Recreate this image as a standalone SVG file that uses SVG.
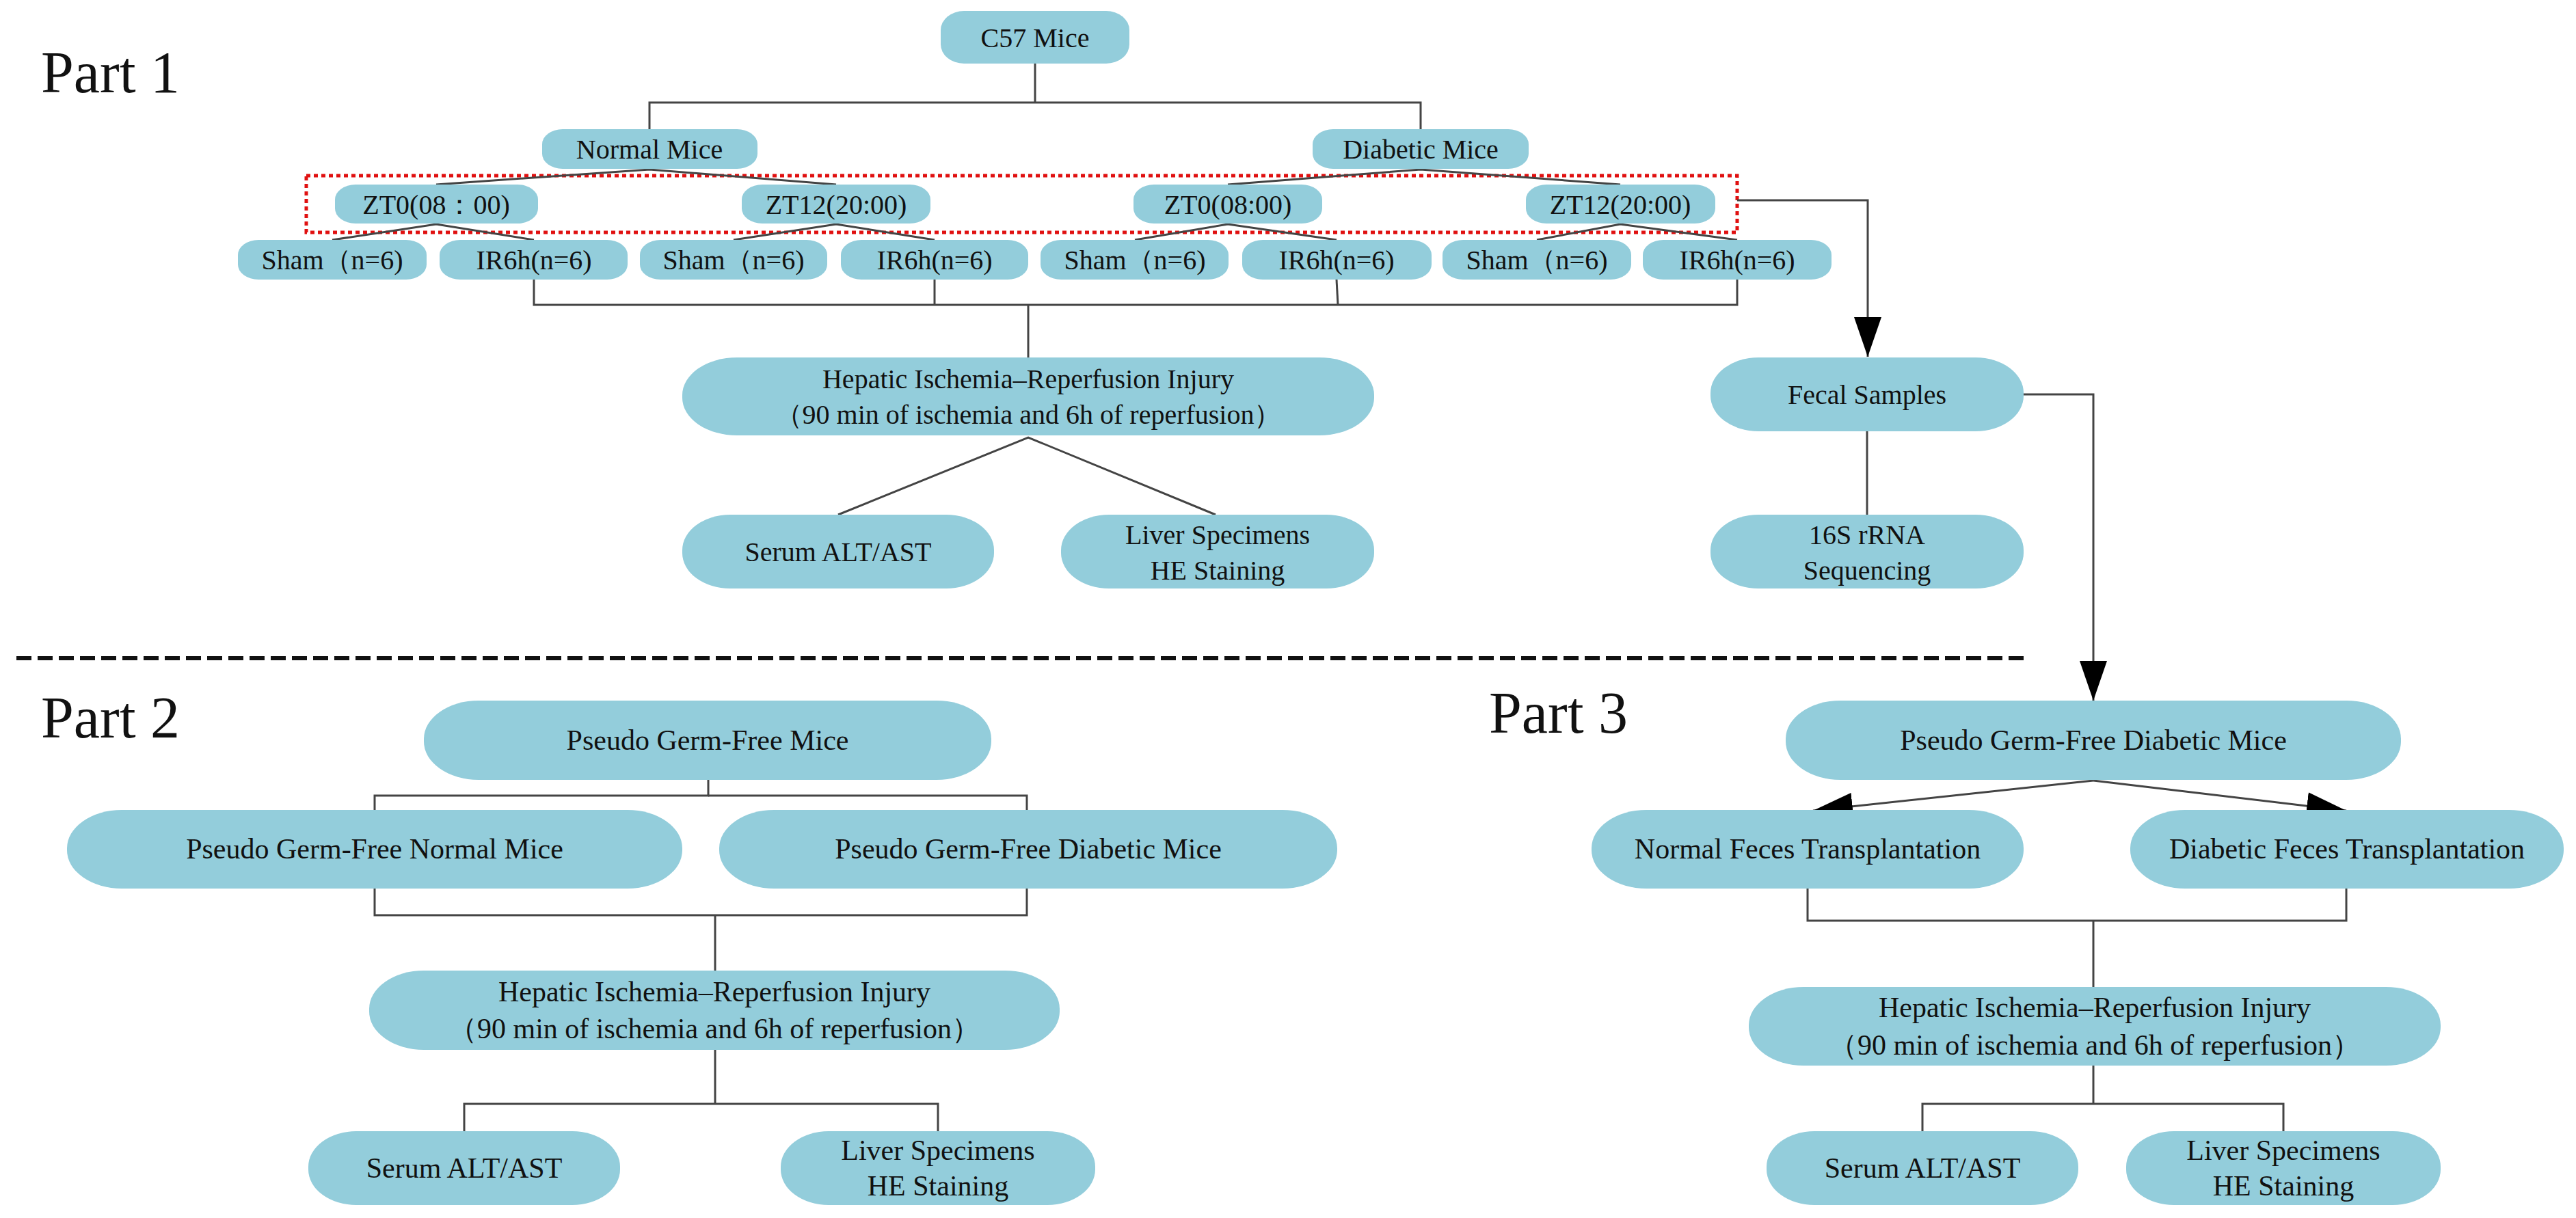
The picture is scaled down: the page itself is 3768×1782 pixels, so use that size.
<svg xmlns="http://www.w3.org/2000/svg" width="3768" height="1782" viewBox="0 0 3768 1782">
<style>
.n{fill:#93CDDB}
text{font-family:"Liberation Serif","Times New Roman",serif;fill:#111;text-anchor:middle;dominant-baseline:central}
.s{font-size:40px}
.m{font-size:42px}
.p{font-size:86px;text-anchor:start;dominant-baseline:auto}
.c line,.c polyline{stroke:#444;stroke-width:3;fill:none}
</style>
<defs>
<marker id="ah" viewBox="0 0 10 10" refX="10" refY="5" markerWidth="10" markerHeight="10" markerUnits="userSpaceOnUse" orient="auto">
<path d="M0,0 L10,5 L0,10 z" fill="#000"/>
</marker>
<marker id="big" viewBox="0 0 10 10" refX="10" refY="5" markerWidth="58" markerHeight="40" markerUnits="userSpaceOnUse" orient="auto" preserveAspectRatio="none">
<path d="M0,0 L10,5 L0,10 z" fill="#000"/>
</marker>
</defs>
<rect width="3768" height="1782" fill="#fff"/>
<text class="p" x="60" y="135">Part 1</text>
<text class="p" x="60" y="1079">Part 2</text>
<text class="p" x="2178" y="1072">Part 3</text>
<line x1="24" y1="963" x2="2968" y2="963" stroke="#111" stroke-width="6" stroke-dasharray="22 9"/>
<rect x="448" y="257" width="2093" height="83" fill="none" stroke="#e01010" stroke-width="5" stroke-dasharray="6 5"/>
<g class="c">
<line x1="1514" y1="93" x2="1514" y2="150"/>
<polyline points="950,189 950,150 2078,150 2078,189"/>
<polyline points="638,270 950,248 1223,270"/>
<polyline points="1796,270 2078,248 2370,270"/>
<polyline points="486,351 638,328 781,351"/>
<polyline points="1073,351 1223,328 1367,351"/>
<polyline points="1660,351 1796,328 1955,351"/>
<polyline points="2248,351 2370,328 2541,351"/>
<polyline points="781,409 781,446 2541,446 2541,409"/>
<line x1="1367" y1="409" x2="1367" y2="446"/>
<line x1="1955" y1="409" x2="1957" y2="446"/>
<line x1="1504" y1="446" x2="1504" y2="523"/>
<polyline points="1226,753 1504,640 1778,753"/>
<polyline points="2541,293 2732,293 2732,522" marker-end="url(#big)"/>
<line x1="2731" y1="631" x2="2731" y2="753"/>
<polyline points="2960,577 3062,577 3062,1025" marker-end="url(#big)"/>
<polyline points="1036,1141 1036,1164 548,1164 548,1185"/>
<polyline points="1036,1164 1502,1164 1502,1185"/>
<polyline points="548,1300 548,1339 1502,1339 1502,1300"/>
<line x1="1046" y1="1339" x2="1046" y2="1420"/>
<polyline points="679,1655 679,1615 1372,1615 1372,1655"/>
<line x1="1046" y1="1536" x2="1046" y2="1615"/>
<line x1="3062" y1="1142" x2="2652" y2="1186" marker-end="url(#big)"/>
<line x1="3062" y1="1142" x2="3432" y2="1186" marker-end="url(#big)"/>
<polyline points="2644,1300 2644,1347 3432,1347 3432,1300"/>
<line x1="3062" y1="1347" x2="3062" y2="1444"/>
<polyline points="2812,1655 2812,1615 3340,1615 3340,1655"/>
<line x1="3062" y1="1559" x2="3062" y2="1615"/>
</g>
<g id="c57"><rect class="n" x="1376" y="16" width="276" height="77" rx="34" ry="28"/><text class="s" x="1514" y="55">C57 Mice</text></g>
<g id="normal"><rect class="n" x="793" y="189" width="315" height="58" rx="30" ry="22"/><text class="s" x="950" y="218">Normal Mice</text></g>
<g id="diabetic"><rect class="n" x="1920" y="189" width="316" height="58" rx="30" ry="22"/><text class="s" x="2078" y="218">Diabetic Mice</text></g>
<g id="zt0a"><rect class="n" x="490" y="270" width="297" height="57" rx="30" ry="22"/><text class="s" x="638" y="299">ZT0(08：00)</text></g>
<g id="zt12a"><rect class="n" x="1085" y="270" width="276" height="57" rx="30" ry="22"/><text class="s" x="1223" y="299">ZT12(20:00)</text></g>
<g id="zt0b"><rect class="n" x="1658" y="270" width="276" height="57" rx="30" ry="22"/><text class="s" x="1796" y="299">ZT0(08:00)</text></g>
<g id="zt12b"><rect class="n" x="2232" y="270" width="277" height="57" rx="30" ry="22"/><text class="s" x="2370" y="299">ZT12(20:00)</text></g>
<g id="sham1"><rect class="n" x="348" y="351" width="276" height="58" rx="30" ry="22"/><text class="s" x="486" y="380">Sham（n=6)</text></g>
<g id="ir1"><rect class="n" x="643" y="351" width="275" height="58" rx="30" ry="22"/><text class="s" x="781" y="380">IR6h(n=6)</text></g>
<g id="sham2"><rect class="n" x="936" y="351" width="274" height="58" rx="30" ry="22"/><text class="s" x="1073" y="380">Sham（n=6)</text></g>
<g id="ir2"><rect class="n" x="1230" y="351" width="274" height="58" rx="30" ry="22"/><text class="s" x="1367" y="380">IR6h(n=6)</text></g>
<g id="sham3"><rect class="n" x="1522" y="351" width="275" height="58" rx="30" ry="22"/><text class="s" x="1660" y="380">Sham（n=6)</text></g>
<g id="ir3"><rect class="n" x="1817" y="351" width="277" height="58" rx="30" ry="22"/><text class="s" x="1955" y="380">IR6h(n=6)</text></g>
<g id="sham4"><rect class="n" x="2110" y="351" width="276" height="58" rx="30" ry="22"/><text class="s" x="2248" y="380">Sham（n=6)</text></g>
<g id="ir4"><rect class="n" x="2403" y="351" width="276" height="58" rx="30" ry="22"/><text class="s" x="2541" y="380">IR6h(n=6)</text></g>
<g id="hep1"><rect class="n" x="998" y="523" width="1012" height="114" rx="80" ry="55"/><text class="s" x="1504" y="554">Hepatic Ischemia–Reperfusion Injury</text><text class="s" x="1504" y="606">（90 min of ischemia and 6h of reperfusion）</text></g>
<g id="serum1"><rect class="n" x="998" y="753" width="456" height="108" rx="70" ry="52"/><text class="s" x="1226" y="807">Serum ALT/AST</text></g>
<g id="liver1"><rect class="n" x="1552" y="753" width="458" height="108" rx="70" ry="52"/><text class="s" x="1781" y="782">Liver Specimens</text><text class="s" x="1781" y="834">HE Staining</text></g>
<g id="fecal"><rect class="n" x="2502" y="523" width="458" height="108" rx="70" ry="52"/><text class="s" x="2731" y="577">Fecal Samples</text></g>
<g id="seq"><rect class="n" x="2502" y="753" width="458" height="108" rx="70" ry="52"/><text class="s" x="2731" y="782">16S rRNA</text><text class="s" x="2731" y="834">Sequencing</text></g>
<g id="pgf"><rect class="n" x="620" y="1025" width="830" height="116" rx="80" ry="56"/><text class="m" x="1035" y="1083">Pseudo Germ-Free Mice</text></g>
<g id="pgfn"><rect class="n" x="98" y="1185" width="900" height="115" rx="80" ry="56"/><text class="m" x="548" y="1242">Pseudo Germ-Free Normal Mice</text></g>
<g id="pgfd"><rect class="n" x="1052" y="1185" width="904" height="115" rx="80" ry="56"/><text class="m" x="1504" y="1242">Pseudo Germ-Free Diabetic Mice</text></g>
<g id="hep2"><rect class="n" x="540" y="1420" width="1010" height="116" rx="80" ry="56"/><text class="m" x="1045" y="1451">Hepatic Ischemia–Reperfusion Injury</text><text class="m" x="1045" y="1505">（90 min of ischemia and 6h of reperfusion）</text></g>
<g id="serum2"><rect class="n" x="451" y="1655" width="456" height="108" rx="70" ry="52"/><text class="m" x="679" y="1709">Serum ALT/AST</text></g>
<g id="liver2"><rect class="n" x="1142" y="1655" width="460" height="108" rx="70" ry="52"/><text class="m" x="1372" y="1683">Liver Specimens</text><text class="m" x="1372" y="1735">HE Staining</text></g>
<g id="pgfd3"><rect class="n" x="2612" y="1025" width="900" height="116" rx="80" ry="56"/><text class="m" x="3062" y="1083">Pseudo Germ-Free Diabetic Mice</text></g>
<g id="nft"><rect class="n" x="2328" y="1185" width="632" height="115" rx="80" ry="56"/><text class="m" x="2644" y="1242">Normal Feces Transplantation</text></g>
<g id="dft"><rect class="n" x="3116" y="1185" width="634" height="115" rx="80" ry="56"/><text class="m" x="3433" y="1242">Diabetic Feces Transplantation</text></g>
<g id="hep3"><rect class="n" x="2558" y="1444" width="1012" height="115" rx="80" ry="56"/><text class="m" x="3064" y="1474">Hepatic Ischemia–Reperfusion Injury</text><text class="m" x="3064" y="1529">（90 min of ischemia and 6h of reperfusion）</text></g>
<g id="serum3"><rect class="n" x="2584" y="1655" width="456" height="108" rx="70" ry="52"/><text class="m" x="2812" y="1709">Serum ALT/AST</text></g>
<g id="liver3"><rect class="n" x="3110" y="1655" width="460" height="108" rx="70" ry="52"/><text class="m" x="3340" y="1683">Liver Specimens</text><text class="m" x="3340" y="1735">HE Staining</text></g>
</svg>
